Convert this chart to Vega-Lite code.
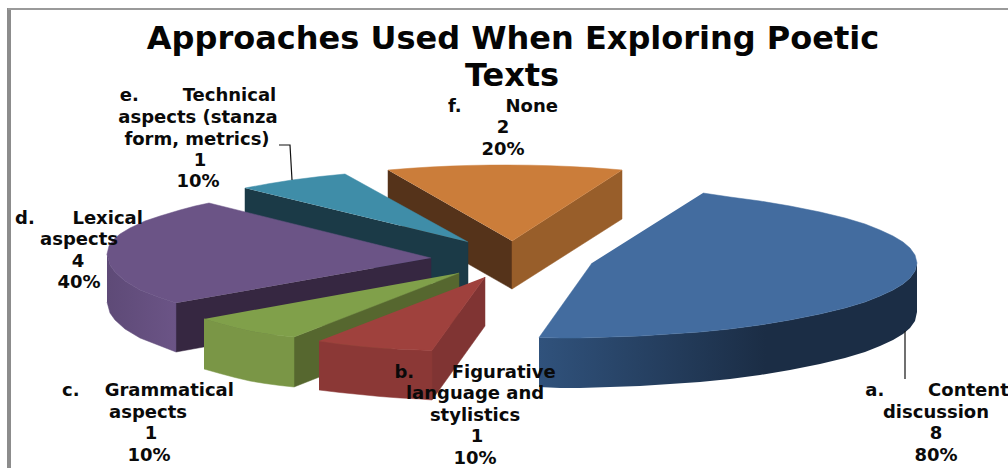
{
  "$schema": "https://vega.github.io/schema/vega-lite/v6.json",
  "width": 1008,
  "height": 468,
  "padding": 0,
  "autosize": {"type": "none"},
  "background": "white",
  "view": {"stroke": null},
  "datasets": {
    "outline": [
      {"face":"f-top","i":0,"u":388,"v":170},{"face":"f-top","i":1,"u":410,"v":168.3},{"face":"f-top","i":2,"u":430,"v":167},{"face":"f-top","i":3,"u":450,"v":166.1},{"face":"f-top","i":4,"u":470,"v":165.4},{"face":"f-top","i":5,"u":490,"v":165.1},{"face":"f-top","i":6,"u":505,"v":165},{"face":"f-top","i":7,"u":530,"v":165.2},{"face":"f-top","i":8,"u":550,"v":165.7},{"face":"f-top","i":9,"u":570,"v":166.5},{"face":"f-top","i":10,"u":590,"v":167.6},{"face":"f-top","i":11,"u":610,"v":169},{"face":"f-top","i":12,"u":622,"v":170},{"face":"f-top","i":13,"u":512,"v":241},
      {"face":"f-right","i":0,"u":622,"v":170},{"face":"f-right","i":1,"u":622,"v":219},{"face":"f-right","i":2,"u":512,"v":289},{"face":"f-right","i":3,"u":512,"v":241},
      {"face":"f-left","i":0,"u":388,"v":170},{"face":"f-left","i":1,"u":388,"v":218},{"face":"f-left","i":2,"u":512,"v":289},{"face":"f-left","i":3,"u":512,"v":241},
      {"face":"e-inner","i":0,"u":245,"v":188},{"face":"e-inner","i":1,"u":245,"v":237},{"face":"e-inner","i":2,"u":468,"v":290},{"face":"e-inner","i":3,"u":468,"v":242},
      {"face":"e-top","i":0,"u":245,"v":188},{"face":"e-top","i":1,"u":270,"v":183.5},{"face":"e-top","i":2,"u":292,"v":180},{"face":"e-top","i":3,"u":320,"v":176.5},{"face":"e-top","i":4,"u":345,"v":174},{"face":"e-top","i":5,"u":468,"v":242},
      {"face":"d-side","i":0,"u":107,"v":254},{"face":"d-side","i":1,"u":110,"v":265},{"face":"d-side","i":2,"u":115,"v":272},{"face":"d-side","i":3,"u":125,"v":281},{"face":"d-side","i":4,"u":140,"v":290},{"face":"d-side","i":5,"u":158,"v":297},{"face":"d-side","i":6,"u":176,"v":303},{"face":"d-side","i":7,"u":176,"v":352},{"face":"d-side","i":8,"u":158,"v":345},{"face":"d-side","i":9,"u":140,"v":338},{"face":"d-side","i":10,"u":125,"v":329},{"face":"d-side","i":11,"u":115,"v":320},{"face":"d-side","i":12,"u":110,"v":313},{"face":"d-side","i":13,"u":107,"v":302},
      {"face":"d-inner","i":0,"u":176,"v":303},{"face":"d-inner","i":1,"u":431,"v":258},{"face":"d-inner","i":2,"u":431,"v":306},{"face":"d-inner","i":3,"u":176,"v":352},
      {"face":"d-top","i":0,"u":176,"v":303},{"face":"d-top","i":1,"u":158,"v":297},{"face":"d-top","i":2,"u":140,"v":290},{"face":"d-top","i":3,"u":125,"v":281},{"face":"d-top","i":4,"u":115,"v":272},{"face":"d-top","i":5,"u":110,"v":265},{"face":"d-top","i":6,"u":107,"v":254},{"face":"d-top","i":7,"u":109,"v":246},{"face":"d-top","i":8,"u":113,"v":240},{"face":"d-top","i":9,"u":120,"v":234},{"face":"d-top","i":10,"u":130,"v":228},{"face":"d-top","i":11,"u":145,"v":221},{"face":"d-top","i":12,"u":160,"v":216},{"face":"d-top","i":13,"u":180,"v":210},{"face":"d-top","i":14,"u":195,"v":206},{"face":"d-top","i":15,"u":209,"v":203},{"face":"d-top","i":16,"u":431,"v":258},
      {"face":"c-inner","i":0,"u":294,"v":337},{"face":"c-inner","i":1,"u":459,"v":273},{"face":"c-inner","i":2,"u":459,"v":322},{"face":"c-inner","i":3,"u":294,"v":387},
      {"face":"c-side","i":0,"u":204,"v":319},{"face":"c-side","i":1,"u":220,"v":323.5},{"face":"c-side","i":2,"u":235,"v":327.5},{"face":"c-side","i":3,"u":250,"v":331},{"face":"c-side","i":4,"u":265,"v":333.5},{"face":"c-side","i":5,"u":280,"v":335.5},{"face":"c-side","i":6,"u":294,"v":337},{"face":"c-side","i":7,"u":294,"v":387},{"face":"c-side","i":8,"u":280,"v":385.5},{"face":"c-side","i":9,"u":265,"v":383.5},{"face":"c-side","i":10,"u":250,"v":381},{"face":"c-side","i":11,"u":235,"v":377.5},{"face":"c-side","i":12,"u":220,"v":373.5},{"face":"c-side","i":13,"u":204,"v":369},
      {"face":"c-top","i":0,"u":204,"v":319},{"face":"c-top","i":1,"u":220,"v":323.5},{"face":"c-top","i":2,"u":235,"v":327.5},{"face":"c-top","i":3,"u":250,"v":331},{"face":"c-top","i":4,"u":265,"v":333.5},{"face":"c-top","i":5,"u":280,"v":335.5},{"face":"c-top","i":6,"u":294,"v":337},{"face":"c-top","i":7,"u":459,"v":273},
      {"face":"b-right","i":0,"u":432,"v":350},{"face":"b-right","i":1,"u":485,"v":277},{"face":"b-right","i":2,"u":485,"v":326},{"face":"b-right","i":3,"u":432,"v":400},
      {"face":"b-side","i":0,"u":319,"v":341},{"face":"b-side","i":1,"u":340,"v":344},{"face":"b-side","i":2,"u":360,"v":346.2},{"face":"b-side","i":3,"u":380,"v":348},{"face":"b-side","i":4,"u":400,"v":349.2},{"face":"b-side","i":5,"u":420,"v":350},{"face":"b-side","i":6,"u":432,"v":350.5},{"face":"b-side","i":7,"u":432,"v":400},{"face":"b-side","i":8,"u":420,"v":399},{"face":"b-side","i":9,"u":400,"v":398},{"face":"b-side","i":10,"u":380,"v":396.5},{"face":"b-side","i":11,"u":360,"v":394.5},{"face":"b-side","i":12,"u":340,"v":392.5},{"face":"b-side","i":13,"u":319,"v":390},
      {"face":"b-top","i":0,"u":319,"v":341},{"face":"b-top","i":1,"u":340,"v":344},{"face":"b-top","i":2,"u":360,"v":346.2},{"face":"b-top","i":3,"u":380,"v":348},{"face":"b-top","i":4,"u":400,"v":349.2},{"face":"b-top","i":5,"u":420,"v":350},{"face":"b-top","i":6,"u":432,"v":350.5},{"face":"b-top","i":7,"u":485,"v":277},
      {"face":"a-side","i":0,"u":917,"v":263},{"face":"a-side","i":1,"u":915,"v":271},{"face":"a-side","i":2,"u":910,"v":278},{"face":"a-side","i":3,"u":903,"v":284},{"face":"a-side","i":4,"u":893,"v":290},{"face":"a-side","i":5,"u":880,"v":296},{"face":"a-side","i":6,"u":865,"v":302},{"face":"a-side","i":7,"u":845,"v":308},{"face":"a-side","i":8,"u":820,"v":314},{"face":"a-side","i":9,"u":790,"v":320},{"face":"a-side","i":10,"u":760,"v":325},{"face":"a-side","i":11,"u":730,"v":329},{"face":"a-side","i":12,"u":700,"v":332},{"face":"a-side","i":13,"u":670,"v":334},{"face":"a-side","i":14,"u":640,"v":336},{"face":"a-side","i":15,"u":610,"v":337},{"face":"a-side","i":16,"u":580,"v":338},{"face":"a-side","i":17,"u":560,"v":338},{"face":"a-side","i":18,"u":539,"v":337.5},
      {"face":"a-side","i":19,"u":539,"v":387},{"face":"a-side","i":20,"u":560,"v":388},{"face":"a-side","i":21,"u":580,"v":388},{"face":"a-side","i":22,"u":610,"v":387},{"face":"a-side","i":23,"u":640,"v":386},{"face":"a-side","i":24,"u":670,"v":384},{"face":"a-side","i":25,"u":700,"v":382},{"face":"a-side","i":26,"u":730,"v":379},{"face":"a-side","i":27,"u":760,"v":375},{"face":"a-side","i":28,"u":790,"v":370},{"face":"a-side","i":29,"u":820,"v":364},{"face":"a-side","i":30,"u":845,"v":358},{"face":"a-side","i":31,"u":865,"v":352},{"face":"a-side","i":32,"u":880,"v":346},{"face":"a-side","i":33,"u":893,"v":340},{"face":"a-side","i":34,"u":903,"v":334},{"face":"a-side","i":35,"u":910,"v":328},{"face":"a-side","i":36,"u":915,"v":321},{"face":"a-side","i":37,"u":917,"v":312},
      {"face":"a-top","i":0,"u":703,"v":193},{"face":"a-top","i":1,"u":730,"v":197},{"face":"a-top","i":2,"u":760,"v":201},{"face":"a-top","i":3,"u":790,"v":206},{"face":"a-top","i":4,"u":820,"v":212},{"face":"a-top","i":5,"u":845,"v":218},{"face":"a-top","i":6,"u":865,"v":224},{"face":"a-top","i":7,"u":880,"v":230},{"face":"a-top","i":8,"u":893,"v":236},{"face":"a-top","i":9,"u":903,"v":242},{"face":"a-top","i":10,"u":910,"v":248},{"face":"a-top","i":11,"u":915,"v":255},{"face":"a-top","i":12,"u":917,"v":263},{"face":"a-top","i":13,"u":915,"v":271},{"face":"a-top","i":14,"u":910,"v":278},{"face":"a-top","i":15,"u":903,"v":284},{"face":"a-top","i":16,"u":893,"v":290},{"face":"a-top","i":17,"u":880,"v":296},{"face":"a-top","i":18,"u":865,"v":302},{"face":"a-top","i":19,"u":845,"v":308},{"face":"a-top","i":20,"u":820,"v":314},{"face":"a-top","i":21,"u":790,"v":320},{"face":"a-top","i":22,"u":760,"v":325},{"face":"a-top","i":23,"u":730,"v":329},{"face":"a-top","i":24,"u":700,"v":332},{"face":"a-top","i":25,"u":670,"v":334},{"face":"a-top","i":26,"u":640,"v":336},{"face":"a-top","i":27,"u":610,"v":337},{"face":"a-top","i":28,"u":580,"v":338},{"face":"a-top","i":29,"u":560,"v":338},{"face":"a-top","i":30,"u":539,"v":337.5},{"face":"a-top","i":31,"u":592,"v":263}
    ],
    "guides": [
      {"guide":"frame-top","i":0,"u":8,"v":9},{"guide":"frame-top","i":1,"u":1008,"v":9},
      {"guide":"frame-left","i":0,"u":9,"v":8},{"guide":"frame-left","i":1,"u":9,"v":468},
      {"guide":"leader-e","i":0,"u":279,"v":145},{"guide":"leader-e","i":1,"u":290,"v":145},{"guide":"leader-e","i":2,"u":292,"v":180},
      {"guide":"leader-a","i":0,"u":905,"v":331},{"guide":"leader-a","i":1,"u":905,"v":379}
    ],
    "labels": [
      {"slice":"title","text":"Approaches Used When Exploring Poetic","u":513,"v":39},
      {"slice":"title","text":"Texts","u":512,"v":76},
      {"slice":"e","text":"e.\u00a0\u00a0\u00a0\u00a0\u00a0\u00a0\u00a0Technical","u":198,"v":96},
      {"slice":"e","text":"aspects (stanza","u":198,"v":118},
      {"slice":"e","text":"form, metrics)","u":197,"v":140},
      {"slice":"e","text":"1","u":200,"v":161},
      {"slice":"e","text":"10%","u":198,"v":182},
      {"slice":"f","text":"f.\u00a0\u00a0\u00a0\u00a0\u00a0\u00a0\u00a0None","u":503,"v":107},
      {"slice":"f","text":"2","u":503,"v":128},
      {"slice":"f","text":"20%","u":503,"v":150},
      {"slice":"d","text":"d.\u00a0\u00a0\u00a0\u00a0\u00a0\u00a0Lexical","u":79,"v":219},
      {"slice":"d","text":"aspects","u":79,"v":240},
      {"slice":"d","text":"4","u":78,"v":262},
      {"slice":"d","text":"40%","u":79,"v":283},
      {"slice":"c","text":"c.\u00a0\u00a0\u00a0\u00a0Grammatical","u":148,"v":391},
      {"slice":"c","text":"aspects","u":148,"v":413},
      {"slice":"c","text":"1","u":151,"v":434},
      {"slice":"c","text":"10%","u":149,"v":456},
      {"slice":"b","text":"b.\u00a0\u00a0\u00a0\u00a0\u00a0\u00a0Figurative","u":475,"v":373},
      {"slice":"b","text":"language and","u":475,"v":394},
      {"slice":"b","text":"stylistics","u":475,"v":416},
      {"slice":"b","text":"1","u":477,"v":437},
      {"slice":"b","text":"10%","u":475,"v":459},
      {"slice":"a","text":"a.\u00a0\u00a0\u00a0\u00a0\u00a0\u00a0\u00a0Content","u":937,"v":391},
      {"slice":"a","text":"discussion","u":936,"v":413},
      {"slice":"a","text":"8","u":936,"v":434},
      {"slice":"a","text":"80%","u":936,"v":456}
    ]
  },
  "encoding": {
    "x": {"field":"u","type":"quantitative","scale":{"domain":[0,1008],"nice":false,"zero":false},"axis":null},
    "y": {"field":"v","type":"quantitative","scale":{"domain":[468,0],"nice":false,"zero":false},"axis":null}
  },
  "layer": [
    {"data":{"name":"guides"},"transform":[{"filter":"datum.guide=='frame-left'"}],"mark":{"type":"line","stroke":"#8c8c8c","strokeWidth":4},"encoding":{"order":{"field":"i","type":"quantitative"}}},
    {"data":{"name":"guides"},"transform":[{"filter":"datum.guide=='frame-top'"}],"mark":{"type":"line","stroke":"#9a9a9a","strokeWidth":2},"encoding":{"order":{"field":"i","type":"quantitative"}}},
    {"data":{"name":"outline"},"transform":[{"filter":"datum.face=='f-left'"}],"mark":{"type":"line","fill":"#55331a","stroke":"#55331a","strokeWidth":0.5},"encoding":{"order":{"field":"i","type":"quantitative"}}},
    {"data":{"name":"outline"},"transform":[{"filter":"datum.face=='f-right'"}],"mark":{"type":"line","fill":"#985e2a","stroke":"#985e2a","strokeWidth":0.5},"encoding":{"order":{"field":"i","type":"quantitative"}}},
    {"data":{"name":"outline"},"transform":[{"filter":"datum.face=='f-top'"}],"mark":{"type":"line","fill":"#cb7d3a","stroke":"#cb7d3a","strokeWidth":0.5},"encoding":{"order":{"field":"i","type":"quantitative"}}},
    {"data":{"name":"outline"},"transform":[{"filter":"datum.face=='e-inner'"}],"mark":{"type":"line","fill":"#1b3a47","stroke":"#1b3a47","strokeWidth":0.5},"encoding":{"order":{"field":"i","type":"quantitative"}}},
    {"data":{"name":"outline"},"transform":[{"filter":"datum.face=='e-top'"}],"mark":{"type":"line","fill":"#3f8da8","stroke":"#3f8da8","strokeWidth":0.5},"encoding":{"order":{"field":"i","type":"quantitative"}}},
    {"data":{"name":"outline"},"transform":[{"filter":"datum.face=='d-inner'"}],"mark":{"type":"line","fill":"#362741","stroke":"#362741","strokeWidth":0.5},"encoding":{"order":{"field":"i","type":"quantitative"}}},
    {"data":{"name":"outline"},"transform":[{"filter":"datum.face=='d-side'"}],"mark":{"type":"line","fill":{"gradient":"linear","x1":0,"x2":1,"y1":0,"y2":0,"stops":[{"offset":0,"color":"#5e4a77"},{"offset":1,"color":"#6b5486"}]},"stroke":"#604c7a","strokeWidth":0.5},"encoding":{"order":{"field":"i","type":"quantitative"}}},
    {"data":{"name":"outline"},"transform":[{"filter":"datum.face=='d-top'"}],"mark":{"type":"line","fill":"#6b5486","stroke":"#6b5486","strokeWidth":0.5},"encoding":{"order":{"field":"i","type":"quantitative"}}},
    {"data":{"name":"outline"},"transform":[{"filter":"datum.face=='c-inner'"}],"mark":{"type":"line","fill":"#56672f","stroke":"#56672f","strokeWidth":0.5},"encoding":{"order":{"field":"i","type":"quantitative"}}},
    {"data":{"name":"outline"},"transform":[{"filter":"datum.face=='c-side'"}],"mark":{"type":"line","fill":"#7a9646","stroke":"#7a9646","strokeWidth":0.5},"encoding":{"order":{"field":"i","type":"quantitative"}}},
    {"data":{"name":"outline"},"transform":[{"filter":"datum.face=='c-top'"}],"mark":{"type":"line","fill":"#80a04a","stroke":"#80a04a","strokeWidth":0.5},"encoding":{"order":{"field":"i","type":"quantitative"}}},
    {"data":{"name":"outline"},"transform":[{"filter":"datum.face=='b-right'"}],"mark":{"type":"line","fill":"#803433","stroke":"#803433","strokeWidth":0.5},"encoding":{"order":{"field":"i","type":"quantitative"}}},
    {"data":{"name":"outline"},"transform":[{"filter":"datum.face=='b-side'"}],"mark":{"type":"line","fill":"#8b3836","stroke":"#8b3836","strokeWidth":0.5},"encoding":{"order":{"field":"i","type":"quantitative"}}},
    {"data":{"name":"outline"},"transform":[{"filter":"datum.face=='b-top'"}],"mark":{"type":"line","fill":"#9f413d","stroke":"#9f413d","strokeWidth":0.5},"encoding":{"order":{"field":"i","type":"quantitative"}}},
    {"data":{"name":"outline"},"transform":[{"filter":"datum.face=='a-side'"}],"mark":{"type":"line","fill":{"gradient":"linear","x1":0,"x2":1,"y1":0,"y2":0,"stops":[{"offset":0,"color":"#30527c"},{"offset":0.6,"color":"#1b2d45"},{"offset":1,"color":"#1b2d45"}]},"strokeWidth":0},"encoding":{"order":{"field":"i","type":"quantitative"}}},
    {"data":{"name":"outline"},"transform":[{"filter":"datum.face=='a-top'"}],"mark":{"type":"line","fill":"#436c9f","stroke":"#436c9f","strokeWidth":0.5},"encoding":{"order":{"field":"i","type":"quantitative"}}},
    {"data":{"name":"guides"},"transform":[{"filter":"datum.guide=='leader-e'"}],"mark":{"type":"line","stroke":"#111111","strokeWidth":1.2},"encoding":{"order":{"field":"i","type":"quantitative"}}},
    {"data":{"name":"guides"},"transform":[{"filter":"datum.guide=='leader-a'"}],"mark":{"type":"line","stroke":"#111111","strokeWidth":1.2},"encoding":{"order":{"field":"i","type":"quantitative"}}},
    {"data":{"name":"labels"},"transform":[{"filter":"datum.slice!='title'"}],"mark":{"type":"text","font":"DejaVu Sans","fontWeight":"bold","fontSize":18,"align":"center","baseline":"middle","color":"#0a0a0a"},"encoding":{"text":{"field":"text"}}},
    {"data":{"name":"labels"},"transform":[{"filter":"datum.slice=='title'"}],"mark":{"type":"text","font":"DejaVu Sans","fontWeight":"bold","fontSize":32,"align":"center","baseline":"middle","color":"#050505"},"encoding":{"text":{"field":"text"}}}
  ]
}
